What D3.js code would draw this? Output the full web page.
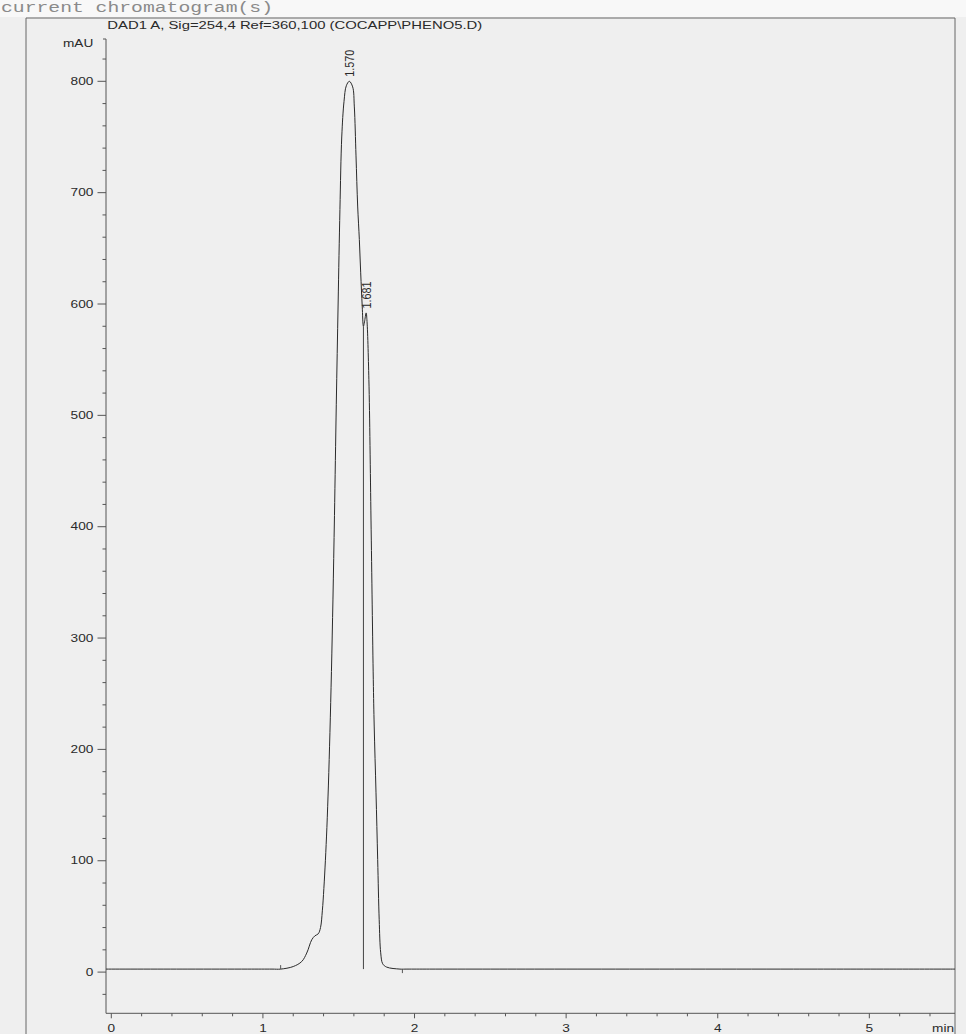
<!DOCTYPE html>
<html>
<head>
<meta charset="utf-8">
<script src="https://cdn.jsdelivr.net/npm/d3@7"></script>
<style>
  html, body { margin: 0; padding: 0; background: #f0f0f0; }
  svg { display: block; }
</style>
</head>
<body>
<svg id="chart" width="966" height="1034"></svg>
<script>
// Retention time (min) and absorbance (mAU) of the DAD1 A trace
const traceTime = [
  -0.035, 0.5, 0.9, 1.06, 1.117, 1.200, 1.256, 1.289, 1.322, 1.343, 1.365,
  1.380, 1.392, 1.402, 1.412, 1.422, 1.432, 1.442, 1.452, 1.462, 1.472,
  1.484, 1.496, 1.508, 1.520, 1.535, 1.550, 1.570, 1.592, 1.603, 1.614,
  1.625, 1.636, 1.645, 1.655, 1.663, 1.670, 1.681, 1.686, 1.699, 1.713,
  1.728, 1.734, 1.746, 1.757, 1.767, 1.777, 1.790, 1.816, 1.904, 1.95,
  2.1, 2.5, 3.0, 4.5, 5.565
];
const traceMAU = [
  2.7, 2.7, 2.7, 2.7, 2.7, 5.0, 9.5, 17.1, 29.0, 32.6, 34.4,
  40, 55, 75, 100, 130, 168, 215, 270, 335, 410,
  510, 600, 685, 750, 782, 796, 800, 795, 777, 733,
  688, 658, 628, 598, 580, 584, 592, 586, 532, 406,
  263, 221, 161, 101, 47, 17.3, 7.5, 4.5, 2.7, 2.7,
  2.7, 2.7, 2.7, 2.7, 2.7
];

// Integrated peaks: retention time labels and apex heights
const peakTimes = [1.570, 1.681];
const peakLabels = ["1.570", "1.681"];
const peakHeights = [800, 592];

// Split drop line between the two peaks, and integration start/end markers
const dropTime = 1.663;
const dropTop = 580;
const baselineMAU = 2.7;
const integStart = 1.117;
const integEnd = 1.92;

// Axis ticks
const xMajorTicks = [0, 1, 2, 3, 4, 5];
const xMinorTicks = [0.2, 0.4, 0.6, 0.8, 1.2, 1.4, 1.6, 1.8, 2.2, 2.4, 2.6, 2.8,
  3.2, 3.4, 3.6, 3.8, 4.2, 4.4, 4.6, 4.8, 5.2, 5.4];
const yMajorTicks = [0, 100, 200, 300, 400, 500, 600, 700, 800];
const yMinorTicks = [-20, 20, 40, 60, 80, 120, 140, 160, 180, 220, 240, 260, 280,
  320, 340, 360, 380, 420, 440, 460, 480, 520, 540, 560, 580, 620, 640, 660, 680,
  720, 740, 760, 780, 820];

const headerText = "current chromatogram(s)";
const titleText = "DAD1 A, Sig=254,4 Ref=360,100 (COCAPP\\PHENO5.D)";
const yUnit = "mAU";
const xUnit = "min";

const svg = d3.select("#chart");
const W = 966, H = 1034;

const x = d3.scaleLinear().domain([-0.035, 5.565]).range([106, 955]);
const y = d3.scaleLinear().domain([-37, 838]).range([1013.3, 39]);

const ink = "#2a2a2a";
const axisInk = "#555";
const font = "'Liberation Sans', Arial, sans-serif";
const stretch = 1.3;   // printout glyphs are wider than tall

// paper
svg.append("rect").attr("width", W).attr("height", H).attr("fill", "#efefef");
svg.append("rect").attr("width", W).attr("height", 17).attr("fill", "#f8f8f8");

// report header
svg.append("text")
  .attr("x", 1).attr("y", 11.5)
  .attr("font-family", "'Liberation Mono', 'Courier New', monospace")
  .attr("font-size", 14)
  .attr("fill", "#8a8a8a")
  .attr("textLength", 272)
  .attr("lengthAdjust", "spacingAndGlyphs")
  .text(headerText);

// print frame
svg.append("path")
  .attr("d", `M26,${H} V18 H955 V${H}`)
  .attr("fill", "none").attr("stroke", "#666").attr("stroke-width", 1);

// signal title
svg.append("text")
  .attr("x", 107.3).attr("y", 28.5)
  .attr("font-family", font).attr("font-size", 10.8)
  .attr("fill", ink)
  .attr("textLength", 375)
  .attr("lengthAdjust", "spacingAndGlyphs")
  .text(titleText);

// y axis
const gy = svg.append("g").attr("transform", `translate(${x.range()[0]},0)`);
gy.append("path")
  .attr("d", `M-3,${y(838)} H0 V${y(-37)}`)
  .attr("fill", "none").attr("stroke", axisInk);
gy.selectAll("line.major").data(yMajorTicks).join("line")
  .attr("class", "major")
  .attr("x1", -8.5).attr("x2", 0)
  .attr("y1", d => y(d)).attr("y2", d => y(d))
  .attr("stroke", axisInk);
gy.selectAll("line.minor").data(yMinorTicks).join("line")
  .attr("class", "minor")
  .attr("x1", -3.5).attr("x2", 0)
  .attr("y1", d => y(d)).attr("y2", d => y(d))
  .attr("stroke", axisInk);
gy.selectAll("text.tick").data(yMajorTicks).join("text")
  .attr("class", "tick")
  .attr("transform", d => `translate(-12.7,${y(d) + 3.7}) scale(${stretch},1)`)
  .attr("text-anchor", "end")
  .attr("font-family", font).attr("font-size", 10.5)
  .attr("fill", ink)
  .text(d => d);
gy.append("text")
  .attr("transform", `translate(-12.7,47) scale(${stretch},1)`)
  .attr("text-anchor", "end")
  .attr("font-family", font).attr("font-size", 10.5)
  .attr("fill", ink)
  .text(yUnit);

// x axis
const gx = svg.append("g").attr("transform", `translate(0,${y.range()[0]})`);
gx.append("line")
  .attr("x1", x.range()[0]).attr("x2", x.range()[1])
  .attr("stroke", axisInk);
gx.selectAll("line.major").data(xMajorTicks).join("line")
  .attr("class", "major")
  .attr("x1", d => x(d)).attr("x2", d => x(d))
  .attr("y1", 0).attr("y2", 5)
  .attr("stroke", axisInk);
gx.selectAll("line.minor").data(xMinorTicks).join("line")
  .attr("class", "minor")
  .attr("x1", d => x(d)).attr("x2", d => x(d))
  .attr("y1", 0).attr("y2", 3)
  .attr("stroke", axisInk);
gx.selectAll("text.tick").data(xMajorTicks).join("text")
  .attr("class", "tick")
  .attr("transform", d => `translate(${x(d)},18.3) scale(${stretch},1)`)
  .attr("text-anchor", "middle")
  .attr("font-family", font).attr("font-size", 10.5)
  .attr("fill", ink)
  .text(d => d);
gx.append("text")
  .attr("transform", `translate(954,18.3) scale(${stretch},1)`)
  .attr("text-anchor", "end")
  .attr("font-family", font).attr("font-size", 10.5)
  .attr("fill", ink)
  .text(xUnit);

// chromatogram trace
const trace = traceTime.map((t, i) => [t, traceMAU[i]]);
const line = d3.line()
  .x(d => x(d[0]))
  .y(d => y(d[1]))
  .curve(d3.curveCatmullRom.alpha(0.5));
svg.append("path")
  .datum(trace)
  .attr("d", line)
  .attr("fill", "none")
  .attr("stroke", ink)
  .attr("stroke-width", 1);

// drop line separating the two peaks
svg.append("line")
  .attr("x1", x(dropTime)).attr("x2", x(dropTime))
  .attr("y1", y(baselineMAU)).attr("y2", y(dropTop))
  .attr("stroke", "#444").attr("stroke-width", 1);

// integration start/end markers
svg.append("line")
  .attr("x1", x(integStart)).attr("x2", x(integStart))
  .attr("y1", y(baselineMAU)).attr("y2", y(baselineMAU) - 4)
  .attr("stroke", "#555");
svg.append("line")
  .attr("x1", x(integEnd)).attr("x2", x(integEnd))
  .attr("y1", y(baselineMAU)).attr("y2", y(baselineMAU) + 4)
  .attr("stroke", "#555");

// retention time labels above each apex
svg.selectAll("text.peak").data(peakTimes).join("text")
  .attr("class", "peak")
  .attr("transform", (d, i) =>
    `translate(${x(d) + 5},${y(peakHeights[i]) - 4.5}) rotate(-90) scale(1,1.2)`)
  .attr("font-family", font).attr("font-size", 10.8)
  .attr("fill", ink)
  .text((d, i) => peakLabels[i]);
</script>
</body>
</html>
